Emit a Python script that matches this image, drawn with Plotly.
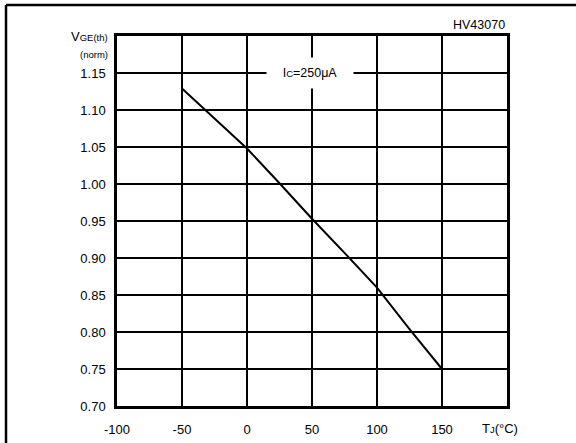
import plotly.graph_objects as go

# Data
temp_c = [-50, -25, 0, 25, 50, 75, 100, 125, 150]
vge_norm = [1.129, 1.089, 1.048, 1.001, 0.953, 0.907, 0.860, 0.804, 0.750]

x_tick_vals = [-100, -50, 0, 50, 100, 150]
x_tick_text = ["-100", "-50", "0", "50", "100", "150"]
y_tick_vals = [0.70, 0.75, 0.80, 0.85, 0.90, 0.95, 1.00, 1.05, 1.10, 1.15]
y_tick_text = ["0.70", "0.75", "0.80", "0.85", "0.90", "0.95", "1.00", "1.05", "1.10", "1.15"]

FONT = "Liberation Sans, Arial, Helvetica, sans-serif"

fig = go.Figure()
fig.add_trace(go.Scatter(x=temp_c, y=vge_norm, mode="lines",
                         line=dict(color="black", width=2), showlegend=False,
                         hoverinfo="skip"))

fig.update_layout(
    width=576, height=443,
    margin=dict(l=117, r=69, t=36, b=37),
    paper_bgcolor="white", plot_bgcolor="white",
    font=dict(family=FONT, size=13, color="black"),
    xaxis=dict(range=[-100, 200], tickvals=x_tick_vals, ticktext=x_tick_text,
               showgrid=True, gridcolor="black", gridwidth=1.5,
               showline=True, linecolor="black", linewidth=2.5, mirror=True,
               ticks="", ticklabelstandoff=10, zeroline=False, automargin=False,
               tickfont=dict(size=13)),
    yaxis=dict(range=[0.70, 1.20], tickvals=y_tick_vals, ticktext=y_tick_text,
               showgrid=True, gridcolor="black", gridwidth=1.5,
               showline=True, linecolor="black", linewidth=2.5, mirror=True,
               ticks="", ticklabelstandoff=6, zeroline=False, automargin=False,
               tickfont=dict(size=13)),
)

# outer frame (only left and top edges visible in reference)
fig.add_shape(type="line", xref="paper", yref="paper",
              x0=-0.2846, x1=-0.2846, y0=-0.2, y1=1.0838,
              line=dict(color="black", width=2.5), layer="above")
fig.add_shape(type="line", xref="paper", yref="paper",
              x0=-0.2846, x1=1.18, y0=1.0838, y1=1.0838,
              line=dict(color="black", width=2.5), layer="above")

# condition label with white background
fig.add_annotation(x=48.5, y=1.15, xref="x", yref="y",
                   text="I<span style='font-size:9.5px'>C</span>=250μA",
                   showarrow=False, bgcolor="white", width=84, height=28,
                   font=dict(size=12.5))

# y-axis title
fig.add_annotation(x=-0.0175, y=1.0, xref="paper", yref="paper",
                   xanchor="right", yanchor="middle",
                   text="V<span style='font-size:9.5px'>GE(th)</span>",
                   showarrow=False, font=dict(size=13))
fig.add_annotation(x=-0.0175, y=0.951, xref="paper", yref="paper",
                   xanchor="right", yanchor="middle",
                   text="(norm)", showarrow=False, font=dict(size=9.5))

# x-axis title near the 200 position
fig.add_annotation(x=0.982, y=-0.06, xref="paper", yref="paper",
                   xanchor="center", yanchor="middle",
                   text="T<span style='font-size:9.5px'>J</span>(°C)",
                   showarrow=False, font=dict(size=13))

# part number
fig.add_annotation(x=1.0, y=1.0, xref="paper", yref="paper",
                   xanchor="right", yanchor="bottom", yshift=2,
                   text="HV43070", showarrow=False, font=dict(size=12.5))

fig.write_html("out.html", config={"displayModeBar": False},
               post_script="document.body.style.margin='0';document.body.style.overflow='hidden';")
